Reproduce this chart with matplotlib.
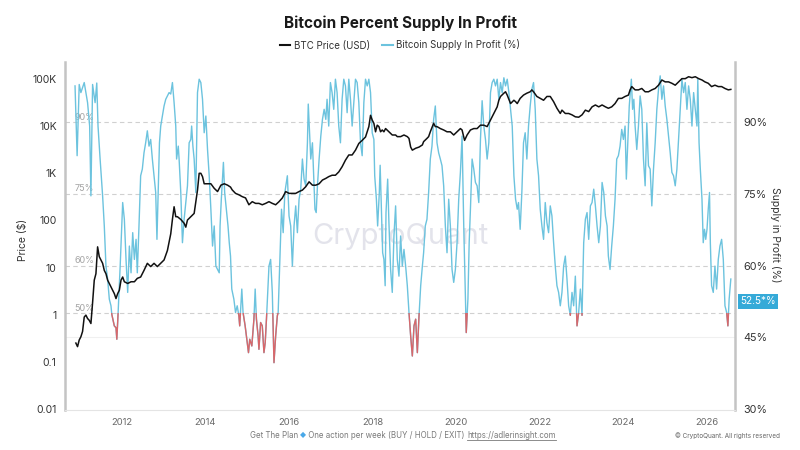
import matplotlib
matplotlib.use('Agg')
import matplotlib.pyplot as plt
import matplotlib.patches as mpatches
from matplotlib.lines import Line2D
from matplotlib.ticker import NullLocator
import matplotlib.transforms as mtransforms

plt.rcParams['font.family'] = ['Inter', 'DejaVu Sans']

# Bitcoin supply in profit (%)
supply_year = [
    2010.88, 2010.93, 2010.98, 2011.02, 2011.10, 2011.18, 2011.23, 2011.26, 2011.30, 2011.36,
    2011.40, 2011.43, 2011.48, 2011.54, 2011.58, 2011.62, 2011.66, 2011.70, 2011.74, 2011.76,
    2011.82, 2011.86, 2011.88, 2011.91, 2011.96, 2012.02, 2012.06, 2012.10, 2012.14, 2012.18,
    2012.22, 2012.26, 2012.30, 2012.34, 2012.37, 2012.41, 2012.45, 2012.49, 2012.53, 2012.57,
    2012.61, 2012.65, 2012.69, 2012.73, 2012.77, 2012.81, 2012.84, 2012.87, 2012.90, 2012.93,
    2012.97, 2013.01, 2013.05, 2013.09, 2013.13, 2013.17, 2013.21, 2013.25, 2013.29, 2013.31,
    2013.35, 2013.37, 2013.41, 2013.45, 2013.49, 2013.53, 2013.57, 2013.61, 2013.65, 2013.67,
    2013.70, 2013.73, 2013.77, 2013.81, 2013.85, 2013.89, 2013.93, 2013.97, 2014.01, 2014.05,
    2014.09, 2014.13, 2014.17, 2014.21, 2014.25, 2014.29, 2014.33, 2014.35, 2014.38, 2014.43,
    2014.46, 2014.50, 2014.54, 2014.57, 2014.60, 2014.63, 2014.68, 2014.72, 2014.76, 2014.80,
    2014.82, 2014.87, 2014.90, 2014.95, 2014.98, 2015.03, 2015.06, 2015.11, 2015.16, 2015.19,
    2015.22, 2015.26, 2015.28, 2015.32, 2015.36, 2015.40, 2015.43, 2015.46, 2015.52, 2015.56,
    2015.60, 2015.64, 2015.68, 2015.72, 2015.74, 2015.78, 2015.82, 2015.86, 2015.90, 2015.96,
    2016.00, 2016.04, 2016.08, 2016.12, 2016.16, 2016.20, 2016.24, 2016.28, 2016.32, 2016.36,
    2016.40, 2016.44, 2016.46, 2016.49, 2016.52, 2016.56, 2016.59, 2016.62, 2016.65, 2016.68,
    2016.72, 2016.76, 2016.80, 2016.84, 2016.88, 2016.91, 2016.95, 2016.99, 2017.03, 2017.07,
    2017.11, 2017.15, 2017.19, 2017.23, 2017.27, 2017.31, 2017.35, 2017.39, 2017.43, 2017.47,
    2017.51, 2017.55, 2017.59, 2017.63, 2017.67, 2017.71, 2017.75, 2017.79, 2017.83, 2017.87,
    2017.91, 2017.95, 2017.99, 2018.03, 2018.05, 2018.09, 2018.12, 2018.16, 2018.18, 2018.21,
    2018.24, 2018.27, 2018.30, 2018.32, 2018.36, 2018.39, 2018.43, 2018.47, 2018.51, 2018.55,
    2018.59, 2018.63, 2018.67, 2018.71, 2018.75, 2018.79, 2018.83, 2018.87, 2018.91, 2018.95,
    2018.99, 2019.03, 2019.07, 2019.11, 2019.15, 2019.19, 2019.22, 2019.26, 2019.30, 2019.34,
    2019.38, 2019.42, 2019.46, 2019.50, 2019.54, 2019.58, 2019.62, 2019.66, 2019.70, 2019.74,
    2019.78, 2019.82, 2019.86, 2019.90, 2019.94, 2019.98, 2020.02, 2020.06, 2020.10, 2020.14,
    2020.18, 2020.22, 2020.24, 2020.28, 2020.31, 2020.34, 2020.38, 2020.42, 2020.46, 2020.50,
    2020.54, 2020.58, 2020.62, 2020.66, 2020.70, 2020.74, 2020.78, 2020.82, 2020.86, 2020.90,
    2020.94, 2020.98, 2021.02, 2021.06, 2021.10, 2021.14, 2021.18, 2021.22, 2021.26, 2021.30,
    2021.34, 2021.38, 2021.42, 2021.46, 2021.49, 2021.53, 2021.57, 2021.61, 2021.65, 2021.69,
    2021.73, 2021.77, 2021.81, 2021.85, 2021.89, 2021.93, 2021.97, 2022.01, 2022.05, 2022.09,
    2022.13, 2022.17, 2022.21, 2022.25, 2022.29, 2022.33, 2022.37, 2022.41, 2022.45, 2022.49,
    2022.53, 2022.57, 2022.61, 2022.65, 2022.69, 2022.73, 2022.77, 2022.81, 2022.85, 2022.89,
    2022.93, 2022.97, 2023.01, 2023.05, 2023.09, 2023.13, 2023.17, 2023.21, 2023.25, 2023.29,
    2023.33, 2023.37, 2023.41, 2023.45, 2023.49, 2023.53, 2023.57, 2023.61, 2023.64, 2023.68,
    2023.72, 2023.76, 2023.80, 2023.84, 2023.88, 2023.92, 2023.96, 2024.00, 2024.04, 2024.07,
    2024.11, 2024.14, 2024.19, 2024.22, 2024.25, 2024.28, 2024.32, 2024.36, 2024.40, 2024.44,
    2024.48, 2024.52, 2024.56, 2024.60, 2024.64, 2024.68, 2024.72, 2024.76, 2024.80, 2024.84,
    2024.88, 2024.92, 2024.96, 2025.00, 2025.04, 2025.08, 2025.12, 2025.16, 2025.20, 2025.24,
    2025.28, 2025.32, 2025.36, 2025.40, 2025.44, 2025.48, 2025.52, 2025.56, 2025.60, 2025.64,
    2025.68, 2025.72, 2025.76, 2025.78, 2025.81, 2025.84, 2025.88, 2025.91, 2025.94, 2025.97,
    2026.00, 2026.03, 2026.06, 2026.08, 2026.11, 2026.15, 2026.19, 2026.23, 2026.27, 2026.31,
    2026.35, 2026.39, 2026.43, 2026.47, 2026.50, 2026.53, 2026.57,
]
supply_pct = [
    97.6, 83.0, 97.9, 96.2, 98.3, 94.1, 89.2, 74.6, 97.9, 94.1,
    98.2, 89.2, 82.3, 74.6, 68.3, 59.9, 57.2, 53.0, 51.6, 49.8,
    47.4, 47.0, 44.6, 50.0, 59.9, 73.2, 69.7, 61.3, 54.4, 64.1,
    58.5, 66.9, 61.3, 65.5, 58.5, 68.3, 78.8, 80.2, 83.6, 85.7,
    88.2, 85.0, 86.4, 82.3, 78.8, 75.3, 65.5, 75.3, 85.7, 89.2,
    91.3, 93.4, 94.8, 95.5, 96.2, 95.9, 98.3, 94.1, 89.2, 82.3,
    85.0, 82.3, 75.3, 64.8, 69.7, 73.2, 76.7, 85.7, 86.4, 89.2,
    85.0, 82.3, 75.3, 96.2, 99.0, 98.3, 94.8, 87.8, 91.3, 84.3,
    78.8, 71.8, 64.1, 68.3, 59.9, 59.2, 58.5, 68.3, 73.9, 81.6,
    75.3, 71.8, 68.3, 64.8, 62.0, 55.1, 53.0, 50.2, 51.6, 49.5,
    47.4, 55.1, 50.2, 47.4, 45.3, 41.8, 44.6, 43.2, 48.8, 55.1,
    48.8, 45.3, 42.5, 48.1, 47.4, 41.8, 43.9, 48.8, 59.9, 61.3,
    54.4, 39.7, 45.3, 49.5, 50.2, 61.3, 71.8, 66.9, 75.3, 78.8,
    70.4, 68.3, 59.9, 68.3, 72.5, 66.9, 73.9, 76.0, 82.3, 78.1,
    76.7, 85.7, 93.8, 87.8, 82.3, 85.7, 78.8, 71.8, 71.1, 76.7,
    82.3, 87.1, 90.6, 92.7, 90.6, 94.8, 89.2, 98.3, 96.2, 92.7,
    99.0, 96.2, 89.2, 85.7, 94.8, 99.0, 97.6, 92.0, 99.0, 94.8,
    89.2, 94.1, 99.0, 98.3, 94.1, 85.7, 83.0, 94.1, 99.0, 97.6,
    99.0, 96.2, 87.8, 86.4, 78.8, 73.9, 68.3, 75.3, 81.0, 71.8,
    62.7, 61.3, 55.8, 71.1, 78.1, 69.0, 59.2, 54.4, 66.2, 72.5,
    61.3, 57.8, 66.2, 59.9, 63.4, 59.9, 55.8, 50.2, 45.3, 41.1,
    47.4, 48.8, 41.8, 49.5, 55.8, 59.9, 62.7, 68.3, 69.7, 75.3,
    82.3, 85.0, 90.6, 93.4, 85.7, 83.6, 82.3, 80.9, 76.7, 68.3,
    62.7, 73.9, 68.3, 59.2, 56.5, 59.2, 64.8, 73.9, 79.5, 87.1,
    68.3, 53.0, 46.0, 53.0, 64.8, 71.8, 82.3, 80.2, 77.4, 76.7,
    73.2, 86.4, 94.5, 89.2, 86.4, 82.3, 85.7, 96.2, 98.3, 99.0,
    97.6, 99.0, 94.8, 98.3, 96.2, 99.3, 97.6, 99.0, 96.2, 92.7,
    89.2, 78.8, 73.9, 71.8, 73.2, 67.6, 75.3, 85.7, 87.8, 82.3,
    89.2, 93.4, 96.9, 98.3, 92.7, 82.3, 78.8, 71.8, 68.3, 65.5,
    73.2, 69.0, 66.9, 72.5, 70.4, 64.8, 59.9, 55.8, 54.4, 51.6,
    54.4, 59.9, 62.0, 57.2, 51.6, 49.6, 54.4, 51.6, 57.8, 47.4,
    50.2, 55.1, 49.6, 64.8, 69.7, 71.1, 65.5, 72.5, 73.2, 76.0,
    72.5, 68.3, 64.8, 68.3, 77.4, 75.3, 70.4, 68.3, 62.0, 59.2,
    64.1, 68.3, 73.9, 82.3, 83.0, 85.0, 88.5, 86.4, 89.2, 78.1,
    87.1, 93.4, 99.0, 92.7, 94.8, 89.2, 84.3, 89.2, 95.5, 92.7,
    82.3, 76.7, 89.9, 80.9, 80.2, 72.5, 80.2, 85.7, 92.7, 96.9,
    99.7, 94.8, 97.6, 93.4, 90.6, 87.1, 83.6, 79.5, 78.8, 76.7,
    80.2, 86.4, 92.7, 99.0, 96.2, 98.3, 92.7, 97.6, 94.8, 89.2,
    96.2, 92.7, 89.2, 99.0, 85.7, 80.2, 73.9, 64.8, 67.6, 65.5,
    67.6, 71.8, 75.3, 64.8, 55.8, 54.4, 59.9, 55.1, 61.3, 64.1,
    65.5, 61.3, 51.6, 50.2, 47.4, 53.0, 57.2,
]

# BTC price (USD)
price_year = [
    2010.90, 2010.94, 2010.98, 2011.02, 2011.06, 2011.10, 2011.14, 2011.18, 2011.22, 2011.26,
    2011.30, 2011.34, 2011.38, 2011.42, 2011.46, 2011.50, 2011.54, 2011.58, 2011.62, 2011.66,
    2011.70, 2011.74, 2011.78, 2011.82, 2011.86, 2011.90, 2011.94, 2011.98, 2012.02, 2012.06,
    2012.14, 2012.22, 2012.30, 2012.37, 2012.45, 2012.53, 2012.61, 2012.69, 2012.77, 2012.85,
    2012.93, 2013.01, 2013.09, 2013.17, 2013.21, 2013.25, 2013.29, 2013.33, 2013.41, 2013.49,
    2013.53, 2013.57, 2013.65, 2013.73, 2013.81, 2013.85, 2013.89, 2013.93, 2013.97, 2014.05,
    2014.13, 2014.21, 2014.29, 2014.37, 2014.45, 2014.53, 2014.60, 2014.64, 2014.72, 2014.80,
    2014.88, 2014.96, 2015.04, 2015.12, 2015.20, 2015.28, 2015.36, 2015.44, 2015.52, 2015.60,
    2015.68, 2015.76, 2015.84, 2015.92, 2016.00, 2016.08, 2016.16, 2016.24, 2016.32, 2016.40,
    2016.48, 2016.56, 2016.64, 2016.72, 2016.80, 2016.88, 2016.95, 2017.03, 2017.11, 2017.19,
    2017.27, 2017.35, 2017.43, 2017.51, 2017.59, 2017.67, 2017.75, 2017.83, 2017.91, 2017.95,
    2017.99, 2018.03, 2018.07, 2018.11, 2018.15, 2018.19, 2018.23, 2018.27, 2018.31, 2018.39,
    2018.47, 2018.55, 2018.59, 2018.67, 2018.75, 2018.83, 2018.87, 2018.91, 2018.95, 2019.03,
    2019.11, 2019.19, 2019.22, 2019.30, 2019.34, 2019.38, 2019.46, 2019.50, 2019.54, 2019.62,
    2019.70, 2019.78, 2019.86, 2019.94, 2020.02, 2020.10, 2020.14, 2020.20, 2020.26, 2020.34,
    2020.42, 2020.50, 2020.58, 2020.66, 2020.74, 2020.82, 2020.90, 2020.98, 2021.02, 2021.06,
    2021.14, 2021.18, 2021.22, 2021.30, 2021.38, 2021.42, 2021.46, 2021.53, 2021.61, 2021.69,
    2021.77, 2021.81, 2021.85, 2021.93, 2022.01, 2022.09, 2022.17, 2022.25, 2022.33, 2022.41,
    2022.49, 2022.53, 2022.61, 2022.69, 2022.77, 2022.85, 2022.93, 2023.01, 2023.09, 2023.17,
    2023.25, 2023.33, 2023.41, 2023.49, 2023.57, 2023.64, 2023.72, 2023.80, 2023.88, 2023.96,
    2024.04, 2024.12, 2024.16, 2024.20, 2024.28, 2024.36, 2024.44, 2024.52, 2024.60, 2024.68,
    2024.76, 2024.84, 2024.92, 2025.00, 2025.08, 2025.16, 2025.24, 2025.32, 2025.40, 2025.48,
    2025.56, 2025.64, 2025.72, 2025.80, 2025.88, 2025.95, 2026.03, 2026.11, 2026.19, 2026.27,
    2026.35, 2026.43, 2026.51, 2026.57,
]
price_usd = [
    0.25, 0.21, 0.29, 0.34, 0.44, 0.89, 0.98, 0.83, 0.76, 0.65,
    1.8, 5.4, 7.4, 27.5, 17, 14.5, 12.3, 8.7, 7.4, 5.4,
    4.6, 3.9, 3.3, 2.8, 2.2, 2.8, 3.3, 5.4, 6.3, 5.0,
    4.6, 5.0, 5.0, 5.9, 6.3, 8.7, 12.3, 10.5, 12.3, 10.5,
    12.3, 14.5, 23, 52, 105, 195, 120, 120, 105, 87,
    72, 102, 120, 141, 440, 1000, 1000, 850, 600, 600,
    600, 480, 410, 560, 600, 560, 510, 445, 375, 350,
    320, 300, 215, 250, 230, 230, 215, 230, 250, 230,
    215, 250, 300, 410, 375, 375, 375, 410, 440, 520,
    660, 560, 560, 600, 720, 780, 850, 910, 910, 1070,
    1380, 1900, 2450, 2450, 3100, 4300, 5000, 5900, 9800, 17000,
    13500, 11500, 7600, 10500, 9800, 7600, 8300, 7600, 8900, 7600,
    6500, 6500, 6000, 6000, 6500, 6000, 5500, 3600, 3100, 3400,
    3600, 4000, 4700, 5500, 6000, 7600, 11500, 9800, 9800, 8900,
    8300, 7600, 7600, 6500, 7600, 8900, 8300, 5000, 6500, 8300,
    8900, 8900, 10500, 10500, 9800, 13500, 18600, 25700, 35500, 42700,
    50100, 53700, 45700, 30200, 35500, 33100, 30200, 38900, 45700, 50100,
    53700, 58900, 53700, 42700, 38900, 35500, 42700, 42700, 33100, 24000,
    18600, 21900, 18600, 18600, 17400, 15800, 15500, 17400, 21900, 20400,
    25700, 28200, 25700, 28200, 25700, 24000, 25700, 30200, 38900, 38900,
    42700, 45700, 58900, 69200, 58900, 58900, 63100, 53700, 53700, 58900,
    63100, 74100, 95500, 87100, 87100, 81300, 74100, 87100, 102000, 102000,
    112000, 107000, 112000, 102000, 95500, 87100, 81300, 69200, 74100, 69200,
    69200, 63100, 58900, 60300,
]

price_ticks = [0.01, 0.1, 1, 10, 100, 1000, 10000, 100000]
price_tick_labels = ['0.01', '0.1', '1', '10', '100', '1K', '10K', '100K']
pct_ticks = [30, 45, 60, 75, 90]
pct_tick_labels = ['30%', '45%', '60%', '75%', '90%']
guide_levels = [50, 60, 75, 90]
guide_labels = ['50%', '60%', '75%', '90%']
year_ticks = [2012, 2014, 2016, 2018, 2020, 2022, 2024, 2026]
loss_level = 50
last_value = 52.5
last_label = '52.5*%'

blue = '#6cc3de'
red = '#d9676a'
black = '#111111'

fig = plt.figure(figsize=(8, 4.5), dpi=100)
ax = fig.add_axes([65 / 800, 40 / 450, 670 / 800, 348 / 450])
ax2 = ax.twinx()
ax.set_zorder(2)
ax2.set_zorder(1)
ax.patch.set_visible(False)

# supply in profit, red below 50%
ax2.plot(supply_year, supply_pct, color=blue, lw=1.0, zorder=3)
red_line, = ax2.plot(supply_year, supply_pct, color=red, lw=1.0, zorder=4)
clip = mpatches.Rectangle((2000, 0), 40, loss_level, transform=ax2.transData)
red_line.set_clip_path(clip)

for lvl, lab in zip(guide_levels, guide_labels):
    ax2.axhline(lvl, color='#d0d0d0', lw=0.8, ls=(0, (4, 3)), zorder=1)
    ax2.text(2010.86, lvl + 0.1, lab, fontsize=6.5, color='#a3a3a3', va='bottom', ha='left', zorder=2)
ax2.axhline(45, color='#f0f0f0', lw=0.8, zorder=1)

ax2.text(0.5, 0.5, 'CryptoQuant', transform=ax2.transAxes, fontsize=21, color='#dcdde6',
         ha='center', va='center', zorder=0, alpha=0.8)

ax2.set_ylim(29.8, 102.6)
ax2.set_yticks(pct_ticks)
ax2.set_yticklabels(pct_tick_labels)
ax2.tick_params(axis='y', length=0, pad=6, labelsize=7.8, labelcolor='#333333')
for s in ax2.spines.values():
    s.set_visible(False)

# price
ax.plot(price_year, price_usd, color=black, lw=1.1, zorder=5)
ax.set_yscale('log')
ax.set_ylim(0.0095, 2.3e5)
ax.set_yticks(price_ticks)
ax.set_yticklabels(price_tick_labels)
ax.yaxis.set_minor_locator(NullLocator())
ax.tick_params(axis='y', length=0, pad=6, labelsize=7.5, labelcolor='#333333')
ax.set_xlim(2010.64, 2026.67)
ax.set_xticks(year_ticks)
ax.set_xticklabels([str(y) for y in year_ticks])
ax.tick_params(axis='x', length=0, pad=6, labelsize=6.8, labelcolor='#6a6a6a')
ax.spines['top'].set_visible(False)
ax.spines['left'].set_color('#c4c4c4')
ax.spines['left'].set_linewidth(1.8)
ax.spines['right'].set_color('#c4c4c4')
ax.spines['right'].set_linewidth(1.8)
ax.spines['bottom'].set_color('#e4e4e4')
ax.spines['bottom'].set_linewidth(0.8)

# last value tag
tag_tr = mtransforms.blended_transform_factory(ax2.transAxes, ax2.transData)
ax2.text(1.008, last_value, last_label, transform=tag_tr, ha='left', va='center', fontsize=7.2,
         color='white', bbox=dict(boxstyle='square,pad=0.25', fc='#35aad8', ec='none'), zorder=10,
         clip_on=False)

fig.text(0.5, 1 - 23 / 450, 'Bitcoin Percent Supply In Profit', ha='center', va='center',
         fontsize=11, fontweight='bold', color='#1a1a1a')
handles = [Line2D([], [], color=black, lw=1.5), Line2D([], [], color=blue, lw=1.5)]
fig.legend(handles, ['BTC Price (USD)', 'Bitcoin Supply In Profit (%)'], loc='center',
           bbox_to_anchor=(0.5, 1 - 45 / 450), ncol=2, frameon=False, fontsize=7,
           handlelength=1.1, handletextpad=0.4, columnspacing=1.2, labelcolor='#333333')

fig.text(23 / 800, 1 - 240 / 450, 'Price ($)', rotation=90, ha='center', va='center',
         fontsize=7.5, color='#333333')
fig.text(776 / 800, 1 - 235 / 450, 'Supply in Profit (%)', rotation=270, ha='center', va='center',
         fontsize=7.5, color='#333333')

# footer
renderer = fig.canvas.get_renderer()
footer_parts = [('Get The Plan ', '#7a7a7a', False),
                ('◆', '#4aa8e8', False),
                (' One action per week (BUY / HOLD / EXIT) ', '#7a7a7a', False),
                ('https://adlerinsight.com', '#7a7a7a', True)]
fx = 250 / 800
fy = 1 - 435 / 450
for txt, col, underline in footer_parts:
    fam = ['DejaVu Sans'] if txt == '◆' else ['Inter', 'DejaVu Sans']
    t = fig.text(fx, fy, txt, ha='left', va='center', fontsize=5.7, color=col, family=fam)
    bb = t.get_window_extent(renderer)
    if underline:
        fig.add_artist(Line2D([bb.x0 / 800, bb.x1 / 800], [(bb.y0 - 0.5) / 450] * 2,
                              color=col, lw=0.6, transform=fig.transFigure))
    fx = bb.x1 / 800

fig.text(780 / 800, 1 - 436 / 450, '© CryptoQuant. All rights reserved', ha='right', va='center',
         fontsize=4.6, color='#666666')

fig.savefig('out.png', dpi=100)
